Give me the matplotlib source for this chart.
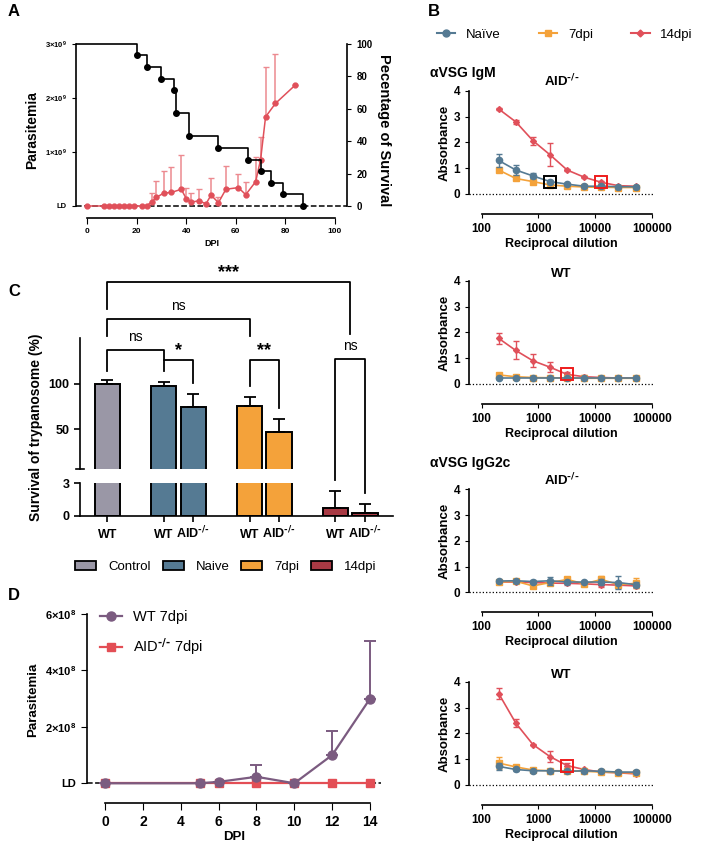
import numpy as np
import matplotlib.pyplot as plt
from matplotlib.lines import Line2D
from matplotlib.patches import Patch

plt.rcParams['font.family'] = ['Liberation Sans', 'DejaVu Sans']
plt.rcParams['font.weight'] = 'bold'
plt.rcParams['axes.labelweight'] = 'bold'
plt.rcParams['axes.titleweight'] = 'bold'
plt.rcParams['mathtext.default'] = 'regular'
plt.rcParams['axes.linewidth'] = 1.2

# colours
c_naive = '#557a93'
c_7 = '#f4a23a'
c_14 = '#e0505a'
c_ctrl = '#9a97a6'
c_14bar = '#a83a44'
c_wt = '#7b5b80'
c_aid = '#e34e55'

AID = r'AID$^{\text{-/-}}$'

# ---------------- data ----------------
# A: survival (%) and parasitemia
surv_days = [0, 20, 24, 30, 35, 36, 41, 53, 65, 70, 74, 79, 87]
surv_pct = [100, 92.9, 85.7, 78.6, 71.4, 57.1, 42.9, 35.7, 28.6, 21.4, 14.3, 7.1, 0]
para_days = [0, 7, 9, 11, 13, 15, 17, 19, 22, 24, 26, 28, 31, 34, 38, 40, 42, 45,
             48, 50, 53, 56, 61, 64, 68, 70, 72, 76, 84]
para_mean = [0, 0, 0, 0, 0, 0, 0, 0, 0, 0, 0.074, 0.16, 0.24, 0.25, 0.31, 0.136,
             0.074, 0.093, 0.043, 0.2, 0.062, 0.31, 0.34, 0.21, 0.45, 0.86, 1.65,
             1.9, 2.24]  # x1e9
para_err = [0, 0, 0, 0, 0, 0, 0, 0, 0, 0, 0.16, 0.31, 0.41, 0.48, 0.63, 0.2, 0.16,
            0.22, 0.0, 0.31, 0.11, 0.43, 0.26, 0.23, 0.46, 0.42, 0.93, 0.91, 0]

# B: ELISA
dilution = [200, 400, 800, 1600, 3200, 6400, 12800, 25600, 51200]
igm_aid_naive = [1.3, 0.93, 0.7, 0.48, 0.38, 0.3, 0.3, 0.28, 0.28]
igm_aid_naive_err = [0.25, 0.18, 0.1, 0.05, 0.03, 0.02, 0.02, 0.02, 0.02]
igm_aid_7 = [0.93, 0.6, 0.48, 0.35, 0.3, 0.27, 0.26, 0.25, 0.25]
igm_aid_7_err = [0.05, 0.04, 0.03, 0.02, 0.02, 0.02, 0.02, 0.02, 0.02]
igm_aid_14 = [3.3, 2.8, 2.07, 1.52, 0.93, 0.65, 0.45, 0.32, 0.3]
igm_aid_14_err = [0.03, 0.07, 0.15, 0.45, 0.04, 0.03, 0.05, 0.02, 0.02]

igm_wt_naive = [0.22, 0.22, 0.22, 0.22, 0.22, 0.22, 0.22, 0.22, 0.22]
igm_wt_naive_err = [0.02] * 9
igm_wt_7 = [0.35, 0.28, 0.25, 0.24, 0.23, 0.22, 0.22, 0.22, 0.22]
igm_wt_7_err = [0.03] * 9
igm_wt_14 = [1.77, 1.3, 0.9, 0.65, 0.37, 0.28, 0.25, 0.23, 0.23]
igm_wt_14_err = [0.2, 0.35, 0.25, 0.2, 0.1, 0.05, 0.03, 0.02, 0.02]

igg_aid_naive = [0.44, 0.45, 0.42, 0.45, 0.4, 0.4, 0.4, 0.38, 0.3]
igg_aid_naive_err = [0.03, 0.03, 0.05, 0.15, 0.05, 0.03, 0.1, 0.25, 0.1]
igg_aid_7 = [0.4, 0.43, 0.25, 0.38, 0.5, 0.33, 0.5, 0.3, 0.35]
igg_aid_7_err = [0.05, 0.03, 0.1, 0.1, 0.1, 0.05, 0.12, 0.1, 0.2]
igg_aid_14 = [0.4, 0.4, 0.38, 0.36, 0.35, 0.33, 0.3, 0.28, 0.25]
igg_aid_14_err = [0.03, 0.03, 0.03, 0.05, 0.05, 0.03, 0.1, 0.1, 0.1]

igg_wt_naive = [0.72, 0.6, 0.55, 0.55, 0.53, 0.55, 0.53, 0.5, 0.5]
igg_wt_naive_err = [0.15, 0.05, 0.03, 0.03, 0.03, 0.03, 0.03, 0.03, 0.03]
igg_wt_7 = [0.85, 0.7, 0.58, 0.55, 0.55, 0.53, 0.5, 0.48, 0.47]
igg_wt_7_err = [0.25, 0.05, 0.03, 0.03, 0.03, 0.03, 0.03, 0.03, 0.03]
igg_wt_14 = [3.55, 2.4, 1.57, 1.1, 0.75, 0.6, 0.5, 0.47, 0.43]
igg_wt_14_err = [0.2, 0.15, 0.03, 0.2, 0.1, 0.03, 0.03, 0.03, 0.03]

# C: survival of trypanosome
bar_groups = ['Control', 'Naive', 'Naive', '7dpi', '7dpi', '14dpi', '14dpi']
bar_labels = ['WT', 'WT', AID, 'WT', AID, 'WT', AID]
bar_vals = [100, 98, 74, 76, 47, 0.76, 0.3]
bar_err = [4, 4.5, 15, 9.5, 14, 1.55, 0.77]
bar_pos = [0, 1.91, 2.91, 4.82, 5.82, 7.73, 8.73]

# D: parasitemia after transfer
d_days = [0, 5, 6, 8, 10, 12, 14]
d_wt = [0, 0, 0.05, 0.23, 0.0, 1.0, 3.0]  # x1e8
d_wt_err = [0, 0, 0, 0.42, 0, 0.86, 2.06]
d_aid = [0, 0, 0, 0, 0, 0, 0]

fig = plt.figure(figsize=(7.02, 8.5), dpi=100)


def fx(px):
    return px / 702


def fy(py):
    return 1 - py / 850


# ---------------- A ----------------
axA = fig.add_axes([fx(76), fy(217.7), fx(271.4), (217.7 - 42.9) / 850])
A_ylim = (-0.217e9, 3.02e9)
axA.set_xlim(-4.45, 105)
axA.set_ylim(*A_ylim)
axA.axhline(0, ls='--', color='k', lw=1.1, zorder=1)
pm = np.array(para_mean) * 1e9
pe = np.array(para_err) * 1e9
axA.errorbar(para_days, pm, yerr=[np.zeros_like(pe), pe], color=c_14, marker='o',
             ms=3.5, lw=1.1, ecolor='#ec8a90', elinewidth=1.1, capsize=2, zorder=3)
axA.spines['top'].set_visible(False)
axA.spines['right'].set_visible(False)
axA.spines['left'].set_bounds(0, 3e9)
axA.spines['bottom'].set_bounds(0, 100)
axA.set_xticks(range(0, 101, 20))
axA.set_yticks([0, 1e9, 2e9, 3e9])
axA.set_yticklabels(['LD', '1×10$^{9}$', '2×10$^{9}$', '3×10$^{9}$'])
axA.tick_params(axis='y', labelsize=5.5, length=3)
axA.tick_params(axis='x', labelsize=6, length=4)
axA.set_xlabel('DPI', fontsize=6.5, labelpad=3)
axA.set_ylabel('Parasitemia', fontsize=10)

axA2 = axA.twinx()
axA2.set_ylim(A_ylim[0] * 100 / 3e9, A_ylim[1] * 100 / 3e9)
xs = [axA.get_xlim()[0]] + surv_days[1:]
axA2.step(xs, surv_pct, where='post', color='k', lw=1.2)
axA2.plot(surv_days[1:], surv_pct[1:], 'o', color='k', ms=4)
axA2.spines['top'].set_visible(False)
axA2.spines['left'].set_visible(False)
axA2.spines['bottom'].set_visible(False)
axA2.spines['right'].set_bounds(0, 100)
axA2.set_yticks(range(0, 101, 20))
axA2.tick_params(axis='y', labelsize=7, length=3)
axA2.set_ylabel('Pecentage of Survival', fontsize=10.5, rotation=270, labelpad=13)


# ---------------- B ----------------
def elisa(bottom_px, title, naive, naive_e, d7, d7_e, d14, d14_e, boxes):
    ax = fig.add_axes([fx(469.4), fy(bottom_px), fx(183.9), 106.3 / 850])
    ax.set_xscale('log')
    ax.set_xlim(61, 1.05e5)
    ax.set_ylim(-0.08, 4.05)
    ax.axhline(0, ls=':', color='k', lw=0.9, zorder=1)
    ax.errorbar(dilution, d14, yerr=d14_e, color=c_14, marker='D', ms=3, lw=1.2,
                capsize=2, elinewidth=1, zorder=3)
    ax.errorbar(dilution, d7, yerr=d7_e, color=c_7, marker='s', ms=4, lw=1.2,
                capsize=2, elinewidth=1, zorder=4)
    ax.errorbar(dilution, naive, yerr=naive_e, color=c_naive, marker='o', ms=4.5,
                lw=1.2, capsize=2, elinewidth=1, zorder=5)
    for idx, series, col in boxes:
        ax.plot(dilution[idx], series[idx], 's', ms=8.5, mfc='none', mec=col,
                mew=1.4, zorder=6)
    for s in ['top', 'right']:
        ax.spines[s].set_visible(False)
    ax.spines['left'].set_bounds(0, 4)
    ax.spines['bottom'].set_position(('outward', 13))
    ax.spines['bottom'].set_bounds(100, 1e5)
    ax.set_xticks([100, 1000, 10000, 100000])
    ax.set_xticklabels(['100', '1000', '10000', '100000'])
    ax.minorticks_off()
    ax.set_yticks([0, 1, 2, 3, 4])
    ax.tick_params(axis='both', labelsize=8.5, length=3)
    ax.set_xlabel('Reciprocal dilution', fontsize=9, labelpad=2)
    ax.set_ylabel('Absorbance', fontsize=9.5, labelpad=2)
    ax.set_title(title, fontsize=9.5, pad=-1)
    return ax


elisa(196, AID, igm_aid_naive, igm_aid_naive_err, igm_aid_7, igm_aid_7_err,
      igm_aid_14, igm_aid_14_err, [(3, igm_aid_naive, 'k'), (6, igm_aid_14, '#ee1c1c')])
elisa(386, 'WT', igm_wt_naive, igm_wt_naive_err, igm_wt_7, igm_wt_7_err,
      igm_wt_14, igm_wt_14_err, [(4, igm_wt_14, '#ee1c1c')])
elisa(594.4, AID, igg_aid_naive, igg_aid_naive_err, igg_aid_7, igg_aid_7_err,
      igg_aid_14, igg_aid_14_err, [])
elisa(787, 'WT', igg_wt_naive, igg_wt_naive_err, igg_wt_7, igg_wt_7_err,
      igg_wt_14, igg_wt_14_err, [(4, igg_wt_14, '#ee1c1c')])

fig.text(fx(430), fy(73), 'αVSG IgM', fontsize=10, va='center')
fig.text(fx(430), fy(463), 'αVSG IgG2c', fontsize=10, va='center')

b_handles = [Line2D([], [], color=c_naive, marker='o', ms=5, lw=1.5),
             Line2D([], [], color=c_7, marker='s', ms=5, lw=1.5),
             Line2D([], [], color=c_14, marker='D', ms=3.5, lw=1.5)]
fig.legend(b_handles, ['Naïve', '7dpi', '14dpi'], loc='center left',
           bbox_to_anchor=(fx(425), fy(35)), ncol=3, frameon=False,
           prop={'weight': 'normal', 'size': 9.5}, handlelength=1.4,
           columnspacing=2.9, handletextpad=0.8)

# ---------------- C ----------------
c_cols = {'Control': c_ctrl, 'Naive': c_naive, '7dpi': c_7, '14dpi': c_14bar}
bar_colors = [c_cols[g] for g in bar_groups]
xl = (-0.93, 9.67)
axCu = fig.add_axes([fx(80), fy(469.3), fx(312.7), 131 / 850])
axCl = fig.add_axes([fx(80), fy(516), fx(312.7), 32.7 / 850])
for ax in (axCu, axCl):
    ax.bar(bar_pos, bar_vals, width=0.86, color=bar_colors, edgecolor='k', lw=1.4)
    ax.errorbar(bar_pos, bar_vals, yerr=[np.zeros(len(bar_err)), bar_err], fmt='none',
                ecolor='k', elinewidth=1.3, capsize=4, capthick=1.3)
    ax.set_xlim(*xl)
    ax.patch.set_visible(False)
    for s in ['top', 'right']:
        ax.spines[s].set_visible(False)
axCu.set_ylim(6, 150)
axCu.spines['bottom'].set_visible(False)
axCu.set_xticks([])
axCu.set_yticks([50, 100])
axCu.tick_params(axis='y', labelsize=9, length=4, width=1.2)
axCl.set_ylim(0, 3)
axCl.set_yticks([0, 3])
axCl.set_xticks(bar_pos)
axCl.set_xticklabels(bar_labels)
axCl.tick_params(axis='both', labelsize=9, length=4, width=1.2)
axCl.tick_params(axis='x', pad=12)
for lab in axCl.get_xticklabels():
    lab.set_va('baseline')
# break marks
axCu.plot([-1.08, -0.78], [6, 6], color='k', lw=1.2, clip_on=False)

# significance brackets (x1, x2, top, left foot, right foot, label, label_y)
brackets = [(0, 8.23, 212.3, 182.7, 154.7, '***', 222),
            (0, 4.82, 171.1, 152.8, 152.8, 'ns', 185),
            (0, 1.91, 137.2, 114.6, 126.3, 'ns', 151),
            (1.91, 2.91, 126.3, 114.6, 100.7, '*', 137),
            (4.82, 5.82, 126.3, 98.1, 73, '**', 137),
            (7.73, 8.73, 127.4, -5.8, -20.3, 'ns', 141)]
for x1, x2, top, f1, f2, lab, ly in brackets:
    axCu.plot([x1, x1, x2, x2], [f1, top, top, f2], color='k', lw=1.3, clip_on=False)
    if 'ns' in lab:
        axCu.text((x1 + x2) / 2, ly, lab, ha='center', va='center', fontsize=10,
                  fontweight='normal', clip_on=False)
    else:
        axCu.text((x1 + x2) / 2, ly, lab, ha='center', va='center', fontsize=13,
                  clip_on=False)

fig.text(fx(36), fy(427), 'Survival of trypanosome (%)', rotation=90, fontsize=10,
         ha='center', va='center')

c_handles = [Patch(facecolor=c_cols[g], edgecolor='k', lw=1.3)
             for g in ['Control', 'Naive', '7dpi', '14dpi']]
fig.legend(c_handles, ['Control', 'Naive', '7dpi', '14dpi'], loc='center',
           bbox_to_anchor=(fx(226), fy(567)), ncol=4, frameon=False,
           prop={'weight': 'normal', 'size': 9.5}, handlelength=1.6, handleheight=0.6,
           columnspacing=0.9, handletextpad=0.9)

# ---------------- D ----------------
axD = fig.add_axes([fx(86.7), fy(787.5), fx(294.7), 174.9 / 850])
axD.set_xlim(-0.97, 14.6)
axD.set_ylim(-0.15e8, 6.05e8)
axD.axhline(0, ls='--', color='k', lw=1.1, zorder=1)
wt = np.array(d_wt) * 1e8
wte = np.array(d_wt_err) * 1e8
axD.plot(d_days, np.array(d_aid) * 1e8, color=c_aid, marker='s', ms=6, lw=1.6, zorder=3)
axD.errorbar(d_days, wt, yerr=[np.zeros_like(wte), wte], color=c_wt, marker='o', ms=6.5,
             lw=1.6, capsize=4, elinewidth=1.4, capthick=1.4, zorder=4)
for s in ['top', 'right']:
    axD.spines[s].set_visible(False)
axD.spines['left'].set_bounds(0, 6e8)
axD.spines['bottom'].set_position(('outward', 11))
axD.spines['bottom'].set_bounds(0, 14)
axD.set_xticks(range(0, 15, 2))
axD.set_yticks([0, 2e8, 4e8, 6e8])
axD.set_yticklabels(['LD', '2×10$^{8}$', '4×10$^{8}$', '6×10$^{8}$'])
axD.tick_params(axis='y', labelsize=8, length=4)
axD.tick_params(axis='x', labelsize=10, length=5)
axD.set_xlabel('DPI', fontsize=9.5, labelpad=2)
axD.set_ylabel('Parasitemia', fontsize=9.5)
d_handles = [Line2D([], [], color=c_wt, marker='o', ms=6.5, lw=1.6),
             Line2D([], [], color=c_aid, marker='s', ms=6, lw=1.6)]
axD.legend(d_handles, ['WT 7dpi', AID + ' 7dpi'], loc='upper left',
           bbox_to_anchor=(0.0, 1.09), frameon=False,
           prop={'weight': 'normal', 'size': 10.5}, handlelength=1.5,
           labelspacing=0.8, handletextpad=0.8)

# panel letters
for lab, x, y in [('A', 8, 11), ('B', 428, 11), ('C', 8, 292), ('D', 8, 596)]:
    fig.text(fx(x), fy(y), lab, fontsize=12, va='center', ha='left')

plt.savefig('out.png', dpi=100)
